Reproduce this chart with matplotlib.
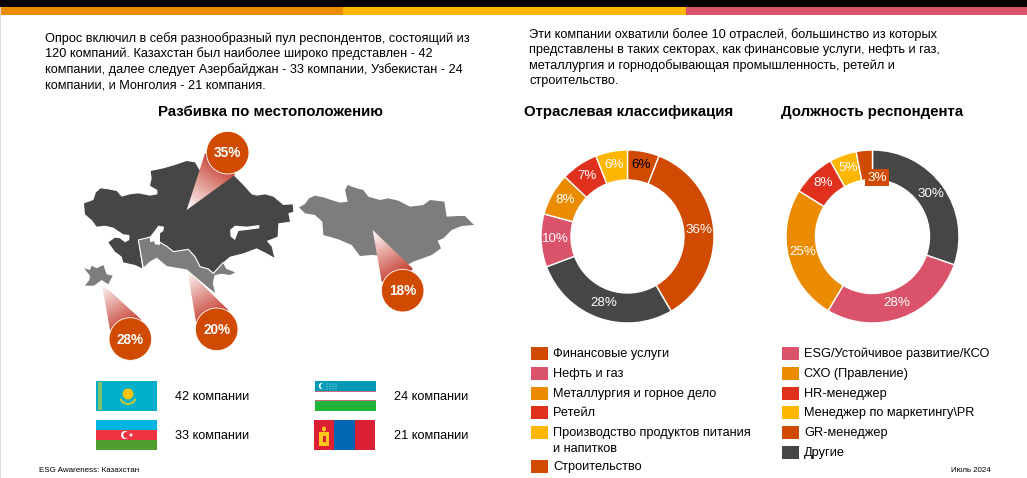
import numpy as np
import matplotlib
matplotlib.use('Agg')
import matplotlib.pyplot as plt
from matplotlib.patches import Polygon, Rectangle, Circle, Ellipse, Wedge

plt.rcParams['font.family'] = ['Liberation Sans', 'DejaVu Sans']

# Colours
ORANGE = '#D04A02'
PINK = '#DB536A'
AMBER = '#EB8C00'
RED = '#E0301E'
YELLOW = '#FFB600'
DARK = '#464646'
GREY = '#7D7D7D'

# Data
industry_values = [6, 36, 28, 10, 8, 7, 6]
industry_colors = [ORANGE, ORANGE, DARK, PINK, AMBER, RED, YELLOW]
industry_text_colors = ['black', 'white', 'white', 'white', 'white', 'white', 'white']
role_values = [30, 28, 25, 8, 5, 3]
role_colors = [DARK, PINK, AMBER, RED, YELLOW, ORANGE]

industry_legend = ['Финансовые услуги', 'Нефть и газ', 'Металлургия и горное дело', 'Ретейл',
                   'Производство продуктов питания\nи напитков', 'Строительство']
industry_legend_colors = [ORANGE, PINK, AMBER, RED, YELLOW, ORANGE]
industry_legend_y = [353, 373, 393, 412, 432, 466]
role_legend = ['ESG/Устойчивое развитие/КСО', 'СХО (Правление)', 'HR-менеджер',
               'Менеджер по маркетингу\\PR', 'GR-менеджер', 'Другие']
role_legend_colors = [PINK, AMBER, RED, YELLOW, ORANGE, DARK]
role_legend_y = [353, 373, 393, 412, 432, 452]

share_labels = ['35%', '20%', '28%', '18%']
company_labels = ['42 компании', '33 компании', '24 компании', '21 компании']

# Map outlines, in 3x crop units (crop starts at 80,155)
kazakhstan = [(12, 145), (40, 135), (48, 112), (62, 100), (85, 103), (110, 108), (125, 125), (150, 118), (175, 115),
              (210, 122), (232, 118), (232, 105), (210, 92), (215, 70), (212, 48), (250, 40), (285, 30), (320, 18),
              (345, 22), (358, 45), (460, 60), (490, 90), (515, 118), (530, 122), (555, 118), (580, 125), (610, 150),
              (638, 148), (640, 170), (625, 175), (630, 200), (595, 205), (593, 245), (560, 258), (575, 275),
              (583, 308), (560, 295), (530, 280), (490, 295), (450, 305), (430, 322), (400, 355), (385, 342),
              (360, 335), (345, 305), (325, 283), (280, 290), (262, 275), (240, 262), (215, 245), (175, 255),
              (187, 340), (165, 330), (130, 322), (125, 305), (105, 290), (85, 262), (105, 248), (120, 250),
              (135, 262), (148, 255), (148, 240), (130, 238), (100, 218), (75, 212), (50, 215), (35, 195), (15, 178)]
uzbekistan = [(175, 255), (215, 245), (240, 262), (262, 275), (280, 290), (325, 283), (345, 305), (360, 335),
              (385, 342), (400, 355), (430, 322), (440, 340), (470, 352), (450, 362), (425, 358), (405, 362),
              (400, 385), (408, 418), (385, 400), (320, 345), (290, 340), (260, 335), (230, 310), (212, 320), (190, 340)]
azerbaijan = [(12, 340), (30, 345), (35, 332), (50, 340), (70, 330), (80, 358), (98, 362), (85, 388), (65, 375),
              (42, 392), (15, 392), (28, 375), (30, 362)]
aral = [(210, 245), (222, 230), (235, 212), (252, 215), (250, 228), (240, 235), (240, 270), (225, 268), (222, 258),
        (210, 262)]
balkhash = [(450, 225), (465, 212), (500, 215), (538, 210), (538, 220), (500, 225), (475, 228), (465, 255), (452, 245)]
# crop starts at 295,180
mongolia = [(12, 82), (30, 72), (42, 55), (60, 47), (85, 52), (115, 62), (135, 68), (158, 65), (150, 30), (158, 15),
            (185, 25), (205, 30), (220, 50), (255, 60), (280, 55), (310, 62), (345, 80), (385, 75), (405, 60),
            (448, 65), (455, 110), (490, 108), (510, 108), (537, 135), (500, 138), (470, 150), (445, 175), (428, 182),
            (438, 205), (410, 225), (355, 245), (330, 258), (300, 230), (230, 225), (195, 228), (170, 195), (130, 178),
            (85, 165), (82, 125), (60, 105), (30, 100)]

# apex, two base points, circle centre (crop starts at 60,120)
callouts = [((380, 270), (435, 100), (525, 165), (503, 98)),
            ((382, 450), (408, 605), (505, 570), (470, 628)),
            ((125, 490), (150, 630), (245, 600), (211, 657)),
            ((938, 330), (965, 485), (1058, 445), (1028, 512))]


def Y(p):
    return 478 - p


def crop(pts, x0, y0):
    return [(x0 + x / 3, Y(y0 + y / 3)) for x, y in pts]


fig = plt.figure(figsize=(10.27, 4.78), dpi=100)
ax = fig.add_axes([0, 0, 1, 1])
ax.axis('off')


def rect(x0, y0, x1, y1, color, z=2):
    ax.add_patch(Rectangle((x0, Y(y1)), x1 - x0, y1 - y0, fc=color, ec='none', zorder=z))


# Top band
rect(0, 0, 1027, 7, 'black')
rect(1, 7, 343, 15, AMBER)
rect(343, 7, 686, 15, YELLOW)
rect(686, 7, 1027, 15, PINK)
rect(0, 7, 1, 478, '#D9D9D9')

# Text blocks
left_lines = ['Опрос включил в себя разнообразный пул респондентов, состоящий из',
              '120 компаний. Казахстан был наиболее широко представлен - 42',
              'компании, далее следует Азербайджан - 33 компании, Узбекистан - 24',
              'компании, и Монголия - 21 компания.']
right_lines = ['Эти компании охватили более 10 отраслей, большинство из которых',
               'представлены в таких секторах, как финансовые услуги, нефть и газ,',
               'металлургия и горнодобывающая промышленность, ретейл и',
               'строительство.']
for i, line in enumerate(left_lines):
    ax.text(45, Y(38.5 + i * 15.5), line, fontsize=9.2, va='center', ha='left', color='black')
for i, line in enumerate(right_lines):
    ax.text(529, Y(34.5 + i * 15.5), line, fontsize=9.2, va='center', ha='left', color='black')

for x, title in [(158, 'Разбивка по местоположению'), (524, 'Отраслевая классификация'), (781, 'Должность респондента')]:
    ax.text(x, Y(111.5), title, fontsize=10.85, fontweight='bold', va='center', ha='left', color='black')

# Map
ax.add_patch(Polygon(crop(kazakhstan, 80, 155), fc=DARK, ec='none', zorder=3))
ax.add_patch(Polygon(crop(uzbekistan, 80, 155), fc=GREY, ec='white', lw=0.8, zorder=4))
ax.add_patch(Polygon(crop(mongolia, 295, 180), fc=GREY, ec='none', zorder=3))
ax.add_patch(Polygon(crop(azerbaijan, 80, 155), fc=GREY, ec='none', zorder=3))
ax.add_patch(Polygon(crop(aral, 80, 155), fc='white', ec='none', zorder=5))
ax.add_patch(Polygon(crop(balkhash, 80, 155), fc='white', ec='none', zorder=5))

# Callouts with a white to red fade towards the bubble
for (apex, b1, b2, centre), label in zip(callouts, share_labels):
    (ax_, ay_), (bx1, by1), (bx2, by2), (cx, cy) = crop([apex, b1, b2, centre], 60, 120)
    x0, x1 = min(ax_, bx1, bx2) - 1, max(ax_, bx1, bx2) + 1
    y0, y1 = min(ay_, by1, by2) - 1, max(ay_, by1, by2) + 1
    gx, gy = np.meshgrid(np.linspace(x0, x1, 80), np.linspace(y0, y1, 80))
    dx, dy = (bx1 + bx2) / 2 - ax_, (by1 + by2) / 2 - ay_
    t = np.clip(((gx - ax_) * dx + (gy - ay_) * dy) / (dx * dx + dy * dy), 0, 1)
    start = np.array([1.0, 1.0, 1.0])
    end = np.array(matplotlib.colors.to_rgb('#C9473A'))
    img = start[None, None, :] * (1 - t[..., None]) + end[None, None, :] * t[..., None]
    im = ax.imshow(img, extent=(x0, x1, y0, y1), origin='lower', zorder=6, aspect='auto', interpolation='bilinear')
    clip = Polygon([(ax_, ay_), (bx1, by1), (cx, cy), (bx2, by2)], transform=ax.transData, fc='none', ec='none')
    ax.add_patch(clip)
    im.set_clip_path(clip)
    ax.add_patch(Circle((cx, cy), 21.3, fc=ORANGE, ec='white', lw=0.6, zorder=7))
    ax.text(cx, cy - 0.5, label, color='white', fontsize=9.8, fontweight='bold', ha='center', va='center', zorder=8)


# Donuts
def donut(values, colors, cx, cy, outer, inner):
    wedges, _ = ax.pie(values, colors=colors, startangle=90, counterclock=False, center=(cx, Y(cy)), radius=outer,
                       wedgeprops=dict(width=outer - inner, edgecolor='white', linewidth=1), frame=False)
    for w in wedges:
        w.set_zorder(3)
    return wedges


ind_wedges = donut(industry_values, industry_colors, 627.5, 236.5, 86.5, 56.5)
role_wedges = donut(role_values, role_colors, 872.5, 236.5, 86.5, 57)


def donut_labels(wedges, values, colors, cx, cy, r):
    for w, v, c in zip(wedges, values, colors):
        a = np.deg2rad((w.theta1 + w.theta2) / 2)
        ax.text(cx + r * np.cos(a), Y(cy) + r * np.sin(a) + 1, f'{v}%', color=c, fontsize=9.6, ha='center', va='center', zorder=9)


donut_labels(ind_wedges, industry_values, industry_text_colors, 627.5, 236.5, 72)
donut_labels(role_wedges[:-1], role_values[:-1], ['white'] * 5, 872.5, 236.5, 72)
ax.text(877, Y(177.5), f'{role_values[-1]}%', color='white', fontsize=9.6, ha='center', va='center', zorder=9,
        bbox=dict(fc=ORANGE, ec='none', boxstyle='square,pad=0.2'))

# Legends
for labels, cols, ys, x in [(industry_legend, industry_legend_colors, industry_legend_y, 531),
                            (role_legend, role_legend_colors, role_legend_y, 782)]:
    for label, col, y in zip(labels, cols, ys):
        rect(x, y - 6.5, x + 17, y + 6.5, col)
        lines = label.split('\n')
        for j, line in enumerate(lines):
            ax.text(x + 22, Y(y + 1 + j * 16), line, fontsize=9.2, va='center', ha='left', color='black')

# Flags
rect(96, 381, 157, 411, '#00AFCA')
rect(98, 382, 102, 410, '#7FC46C')
ax.add_patch(Circle((128, Y(394)), 5.5, fc='#FEC50C', ec='none', zorder=3))
ax.add_patch(Wedge((128, Y(396)), 9, 200, 340, width=2, fc='#C7C93A', ec='none', zorder=3))

rect(315, 381, 376, 391, '#0099B5')
rect(315, 391, 376, 401, 'white')
rect(315, 391, 376, 392, '#CE6A7A')
rect(315, 400, 376, 401, '#CE6A7A')
rect(315, 401, 376, 411, '#1EB53A')
ax.add_patch(Circle((322, Y(386)), 3.2, fc='white', ec='none', zorder=3))
ax.add_patch(Circle((323.5, Y(386)), 3, fc='#0099B5', ec='none', zorder=3))
for px in range(327, 338, 3):
    for py in (384, 386.5, 389):
        ax.add_patch(Circle((px, Y(py)), 0.5, fc='white', ec='none', zorder=3))

rect(96, 420, 157, 430, '#00B5E2')
rect(96, 430, 157, 440, '#EF3340')
rect(96, 440, 157, 450, '#509E2F')
ax.add_patch(Circle((125, Y(435)), 4, fc='white', ec='none', zorder=3))
ax.add_patch(Circle((126.5, Y(435)), 3.2, fc='#EF3340', ec='none', zorder=3))
ax.add_patch(Circle((131, Y(435)), 1.5, fc='white', ec='none', zorder=3))

rect(314, 420, 334, 450, '#DA2032')
rect(334, 420, 355, 450, '#0066B3')
rect(355, 420, 375, 450, '#DA2032')
rect(319, 432, 329, 446, '#FFC61E')
rect(322.5, 436, 325.5, 442, '#DA2032')
ax.add_patch(Ellipse((324, Y(429)), 4, 5, fc='#FFC61E', ec='none', zorder=3))

for (x, y), label in zip([(175, 397), (175, 436), (394, 397), (394, 436)], company_labels):
    ax.text(x, Y(y), label, fontsize=9.2, va='center', ha='left', color='black')

# Footer
ax.text(39, Y(471), 'ESG Awareness: Казахстан', fontsize=5.8, va='center', ha='left', color='black')
ax.text(951, Y(471), 'Июль 2024', fontsize=5.7, va='center', ha='left', color='black')

ax.set_aspect('auto')
ax.set_xlim(0, 1027)
ax.set_ylim(0, 478)
fig.savefig('out.png', dpi=100)
